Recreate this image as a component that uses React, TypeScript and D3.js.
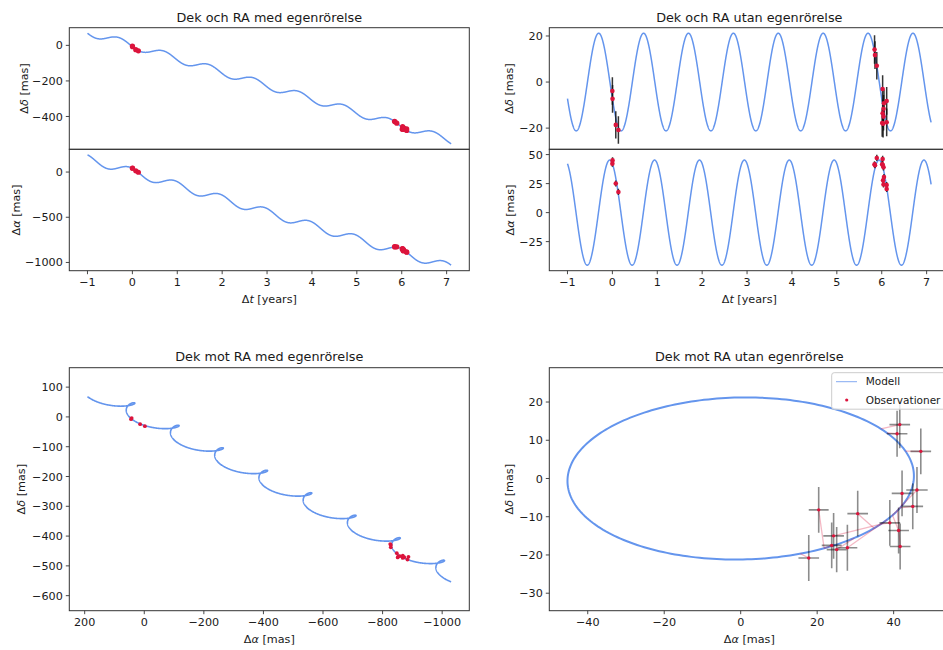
import React from 'react';
import * as d3 from 'd3';

// ---- model parameters ----
const modelSpan = [-1, 7.1]; // years
const raParallax = [45.3, -0.06]; // amplitude [mas], time of maximum [yr]
const decParallax = [21.2, -0.305]; // amplitude [mas], time of maximum [yr]
const properMotion = [-148.5, -75.5]; // [mas/yr] in RA, Dec

// ---- observations (without proper motion) ----
const obsTime = [0.0, 0.004, 0.076, 0.134, 5.84, 5.85, 5.89, 6.01, 6.02, 6.02, 6.03, 6.04, 6.04, 6.05, 6.11, 6.11];
const obsRa = [42.2, 45.0, 25.1, 17.8, 41.6, 40.9, 47.1, 41.7, 46.1, 41.3, 27.9, 39.0, 24.3, 30.6, 20.4, 23.8];
const obsDec = [-3.9, -7.3, -18.6, -20.8, 14.1, 11.7, 7.1, -17.8, -3.0, -13.6, -18.1, -11.6, -15.0, -9.2, -8.2, -17.5];
const obsRaErr = [2.7, 2.7, 2.6, 2.7, 2.7, 2.7, 2.7, 2.7, 2.8, 2.7, 2.6, 2.7, 2.7, 2.7, 2.6, 2.6];
const obsDecErr = [6.0, 6.0, 5.9, 6.0, 6.2, 6.0, 6.0, 6.0, 6.0, 6.0, 6.0, 6.0, 6.0, 6.0, 6.0, 6.0];

// ---- ticks ----
const timeTicks = [-1, 0, 1, 2, 3, 4, 5, 6, 7];
const decPmTicks = [0, -200, -400];
const raPmTicks = [0, -500, -1000];
const decTicks = [20, 0, -20];
const raTicks = [50, 25, 0, -25];
const skyPmXTicks = [200, 0, -200, -400, -600, -800, -1000];
const skyPmYTicks = [100, 0, -100, -200, -300, -400, -500, -600];
const skyXTicks = [-40, -20, 0, 20, 40];
const skyYTicks = [20, 10, 0, -10, -20, -30];

const titles = ['Dek och RA med egenrörelse', 'Dek och RA utan egenrörelse', 'Dek mot RA med egenrörelse', 'Dek mot RA utan egenrörelse'];
const legendLabels = ['Modell', 'Observationer'];

const BLUE = '#6495ED';
const RED = '#DC143C';
const FONT = 'DejaVu Sans, sans-serif';
const TXT = '#1a1a1a';
const TICK_FS = 11.2;

const raPar = (t: number) => raParallax[0] * Math.cos(2 * Math.PI * (t - raParallax[1]));
const decPar = (t: number) => decParallax[0] * Math.cos(2 * Math.PI * (t - decParallax[1]));
const raPm = (t: number, v: number) => v + properMotion[0] * t;
const decPm = (t: number, v: number) => v + properMotion[1] * t;

const modelT = d3.range(modelSpan[0], modelSpan[1] + 1e-9, 0.004);
const model = modelT.map((t) => {
  const a = raPar(t), d = decPar(t);
  return { t, a, d, ap: raPm(t, a), dp: decPm(t, d) };
});
const obs = obsTime.map((t, i) => ({
  t, a: obsRa[i], d: obsDec[i], ea: obsRaErr[i], ed: obsDecErr[i],
  ap: raPm(t, obsRa[i]), dp: decPm(t, obsDec[i]),
  ma: raPar(t), md: decPar(t),
}));

const pad = (lo: number, hi: number) => { const m = (hi - lo) * 0.05; return [lo - m, hi + m]; };
const ext = (vals: number[]) => [d3.min(vals) as number, d3.max(vals) as number];

// layout
const L1 = 69.3, R1 = 469.3, L2 = 549.3, R2 = 949.3;
const T1 = 27.7, M1 = 149.3, B1 = 270.7, T2 = 367.7, B2 = 610.7;

// scales
const tDom = pad(modelSpan[0], modelSpan[1]);
const xT1 = d3.scaleLinear().domain(tDom).range([L1, R1]);
const xT2 = d3.scaleLinear().domain(tDom).range([L2, R2]);
const [dpLo, dpHi] = ext(model.map((m) => m.dp));
const yDp = d3.scaleLinear().domain(pad(dpLo, dpHi)).range([M1, T1]);
const [apLo, apHi] = ext(model.map((m) => m.ap));
const yAp = d3.scaleLinear().domain(pad(apLo, apHi)).range([B1, M1]);
const [dLo, dHi] = ext([...model.map((m) => m.d), ...obs.map((o) => o.d - o.ed), ...obs.map((o) => o.d + o.ed)]);
const yD = d3.scaleLinear().domain(pad(dLo, dHi)).range([M1, T1]);
const [aLo, aHi] = ext([...model.map((m) => m.a), ...obs.map((o) => o.a - o.ea), ...obs.map((o) => o.a + o.ea)]);
const yA = d3.scaleLinear().domain(pad(aLo, aHi)).range([B1, M1]);

function equalAspect(xr: number[], yr: number[], w: number, h: number) {
  const s = Math.max((xr[1] - xr[0]) / w, (yr[1] - yr[0]) / h);
  const xc = (xr[0] + xr[1]) / 2, yc = (yr[0] + yr[1]) / 2;
  return [[xc - (s * w) / 2, xc + (s * w) / 2], [yc - (s * h) / 2, yc + (s * h) / 2]];
}
const [bxPm, byPm] = equalAspect(pad(apLo, apHi), pad(dpLo, dpHi), R1 - L1, B2 - T2);
const xSkyPm = d3.scaleLinear().domain([bxPm[1], bxPm[0]]).range([L1, R1]);
const ySkyPm = d3.scaleLinear().domain(byPm).range([B2, T2]);
const [bx, by] = equalAspect(pad(aLo, aHi), pad(dLo, dHi), R2 - L2, B2 - T2);
const xSky = d3.scaleLinear().domain(bx).range([L2, R2]);
const ySky = d3.scaleLinear().domain(by).range([B2, T2]);

const fmt = (v: number) => (v < 0 ? '\u2212' + Math.abs(v) : String(v));

function Frame({ x0, x1, y0, y1 }: any) {
  return <rect x={x0} y={y0} width={x1 - x0} height={y1 - y0} fill="none" stroke="#333" strokeWidth={1} />;
}
function YTicks({ scale, ticks, x }: any) {
  return (
    <g>
      {ticks.map((v: number) => (
        <g key={v}>
          <line x1={x - 3.5} x2={x} y1={scale(v)} y2={scale(v)} stroke="#333" strokeWidth={0.9} />
          <text x={x - 6.5} y={scale(v)} dy="0.36em" textAnchor="end" fontSize={TICK_FS} fontFamily={FONT} fill={TXT}>{fmt(v)}</text>
        </g>
      ))}
    </g>
  );
}
function XTicks({ scale, ticks, y }: any) {
  return (
    <g>
      {ticks.map((v: number) => (
        <g key={v}>
          <line x1={scale(v)} x2={scale(v)} y1={y} y2={y + 3.5} stroke="#333" strokeWidth={0.9} />
          <text x={scale(v)} y={y + 15.5} textAnchor="middle" fontSize={TICK_FS} fontFamily={FONT} fill={TXT}>{fmt(v)}</text>
        </g>
      ))}
    </g>
  );
}
function Label({ x, y, sym, unit, rotate }: any) {
  return (
    <text transform={`translate(${x},${y})${rotate ? ' rotate(-90)' : ''}`} dy="0.35em" textAnchor="middle" fontSize={11.2} fontFamily={FONT} fill={TXT}>
      <tspan>Δ</tspan><tspan fontStyle="italic">{sym}</tspan><tspan>{' ' + unit}</tspan>
    </text>
  );
}
function Title({ x, y, children }: any) {
  return <text x={x} y={y} textAnchor="middle" fontSize={12.8} fontFamily={FONT} fill={TXT}>{children}</text>;
}

export default function App() {
  const lineTDp = d3.line<any>().x((m) => xT1(m.t)).y((m) => yDp(m.dp))(model) as string;
  const lineTAp = d3.line<any>().x((m) => xT1(m.t)).y((m) => yAp(m.ap))(model) as string;
  const lineTD = d3.line<any>().x((m) => xT2(m.t)).y((m) => yD(m.d))(model) as string;
  const lineTA = d3.line<any>().x((m) => xT2(m.t)).y((m) => yA(m.a))(model) as string;
  const lineSkyPm = d3.line<any>().x((m) => xSkyPm(m.ap)).y((m) => ySkyPm(m.dp))(model) as string;
  const lineSky = d3.line<any>().x((m) => xSky(m.a)).y((m) => ySky(m.d))(model) as string;

  return (
    <svg width={943} height={650} style={{ position: 'absolute', left: 0, top: 0, background: '#fff' }}>
      <defs>
        <clipPath id="cTR"><rect x={L2} y={T1} width={R2 - L2} height={B1 - T1} /></clipPath>
        <clipPath id="cBR"><rect x={L2} y={T2} width={R2 - L2} height={B2 - T2} /></clipPath>
      </defs>
      <rect x={0} y={0} width={943} height={650} fill="#fff" />

      {/* ---------- top-left ---------- */}
      <Title x={(L1 + R1) / 2} y={21.5}>{titles[0]}</Title>
      <path d={lineTDp} fill="none" stroke={BLUE} strokeWidth={1.5} />
      <path d={lineTAp} fill="none" stroke={BLUE} strokeWidth={1.5} />
      {obs.map((o, i) => <circle key={'a' + i} cx={xT1(o.t)} cy={yDp(o.dp)} r={2.6} fill={RED} />)}
      {obs.map((o, i) => <circle key={'b' + i} cx={xT1(o.t)} cy={yAp(o.ap)} r={2.6} fill={RED} />)}
      <Frame x0={L1} x1={R1} y0={T1} y1={M1} />
      <Frame x0={L1} x1={R1} y0={M1} y1={B1} />
      <YTicks scale={yDp} ticks={decPmTicks} x={L1} />
      <YTicks scale={yAp} ticks={raPmTicks} x={L1} />
      <XTicks scale={xT1} ticks={timeTicks} y={B1} />
      <Label x={24} y={(T1 + M1) / 2} sym="δ" unit="[mas]" rotate />
      <Label x={16} y={(M1 + B1) / 2} sym="α" unit="[mas]" rotate />
      <Label x={(L1 + R1) / 2} y={299.5} sym="t" unit="[years]" />

      {/* ---------- top-right ---------- */}
      <Title x={(L2 + R2) / 2} y={21.5}>{titles[1]}</Title>
      <g clipPath="url(#cTR)">
        <path d={lineTD} fill="none" stroke={BLUE} strokeWidth={1.5} />
        <path d={lineTA} fill="none" stroke={BLUE} strokeWidth={1.5} />
        {obs.map((o, i) => (
          <line key={'e' + i} x1={xT2(o.t)} x2={xT2(o.t)} y1={yD(o.d - o.ed)} y2={yD(o.d + o.ed)} stroke="#111" strokeOpacity={0.85} strokeWidth={1.5} />
        ))}
        {obs.map((o, i) => (
          <line key={'f' + i} x1={xT2(o.t)} x2={xT2(o.t)} y1={yA(o.a - o.ea)} y2={yA(o.a + o.ea)} stroke="#111" strokeOpacity={0.85} strokeWidth={1.5} />
        ))}
        {obs.map((o, i) => <circle key={'c' + i} cx={xT2(o.t)} cy={yD(o.d)} r={2.3} fill={RED} />)}
        {obs.map((o, i) => <circle key={'d' + i} cx={xT2(o.t)} cy={yA(o.a)} r={2.3} fill={RED} />)}
      </g>
      <Frame x0={L2} x1={R2} y0={T1} y1={M1} />
      <Frame x0={L2} x1={R2} y0={M1} y1={B1} />
      <YTicks scale={yD} ticks={decTicks} x={L2} />
      <YTicks scale={yA} ticks={raTicks} x={L2} />
      <XTicks scale={xT2} ticks={timeTicks} y={B1} />
      <Label x={509} y={(T1 + M1) / 2} sym="δ" unit="[mas]" rotate />
      <Label x={510} y={(M1 + B1) / 2} sym="α" unit="[mas]" rotate />
      <Label x={(L2 + R2) / 2} y={299.5} sym="t" unit="[years]" />

      {/* ---------- bottom-left ---------- */}
      <Title x={(L1 + R1) / 2} y={361}>{titles[2]}</Title>
      <path d={lineSkyPm} fill="none" stroke={BLUE} strokeWidth={1.6} />
      {obs.map((o, i) => <circle key={'g' + i} cx={xSkyPm(o.ap)} cy={ySkyPm(o.dp)} r={1.9} fill={RED} />)}
      <Frame x0={L1} x1={R1} y0={T2} y1={B2} />
      <YTicks scale={ySkyPm} ticks={skyPmYTicks} x={L1} />
      <XTicks scale={xSkyPm} ticks={skyPmXTicks} y={B2} />
      <Label x={21} y={(T2 + B2) / 2} sym="δ" unit="[mas]" rotate />
      <Label x={(L1 + R1) / 2} y={639.5} sym="α" unit="[mas]" />

      {/* ---------- bottom-right ---------- */}
      <Title x={(L2 + R2) / 2} y={361}>{titles[3]}</Title>
      <g clipPath="url(#cBR)">
        <path d={lineSky} fill="none" stroke={BLUE} strokeWidth={2} />
        {obs.map((o, i) => (
          <line key={'r' + i} x1={xSky(o.a)} y1={ySky(o.d)} x2={xSky(o.ma)} y2={ySky(o.md)} stroke={RED} strokeOpacity={0.3} strokeWidth={1.3} />
        ))}
        {obs.map((o, i) => (
          <g key={'h' + i} stroke="#000" strokeOpacity={0.45} strokeWidth={1.6}>
            <line x1={xSky(o.a)} x2={xSky(o.a)} y1={ySky(o.d - o.ed)} y2={ySky(o.d + o.ed)} />
            <line x1={xSky(o.a - o.ea)} x2={xSky(o.a + o.ea)} y1={ySky(o.d)} y2={ySky(o.d)} />
          </g>
        ))}
        {obs.map((o, i) => <circle key={'k' + i} cx={xSky(o.a)} cy={ySky(o.d)} r={1.7} fill={RED} />)}
      </g>
      {/* legend */}
      <rect x={831.7} y={372.7} width={130} height={36.5} rx={2.5} fill="#fff" fillOpacity={0.8} stroke="#ccc" strokeWidth={1} />
      <line x1={836} x2={857} y1={381.7} y2={381.7} stroke={BLUE} strokeWidth={1} strokeOpacity={0.8} />
      <circle cx={846.7} cy={400} r={1.6} fill={RED} />
      <text x={865.7} y={381.7} dy="0.36em" fontSize={10.5} fontFamily={FONT} fill={TXT}>{legendLabels[0]}</text>
      <text x={865.7} y={400} dy="0.36em" fontSize={10.5} fontFamily={FONT} fill={TXT}>{legendLabels[1]}</text>
      <Frame x0={L2} x1={R2} y0={T2} y1={B2} />
      <YTicks scale={ySky} ticks={skyYTicks} x={L2} />
      <XTicks scale={xSky} ticks={skyXTicks} y={B2} />
      <Label x={509} y={(T2 + B2) / 2} sym="δ" unit="[mas]" rotate />
      <Label x={(L2 + R2) / 2} y={639.5} sym="α" unit="[mas]" />
    </svg>
  );
}
